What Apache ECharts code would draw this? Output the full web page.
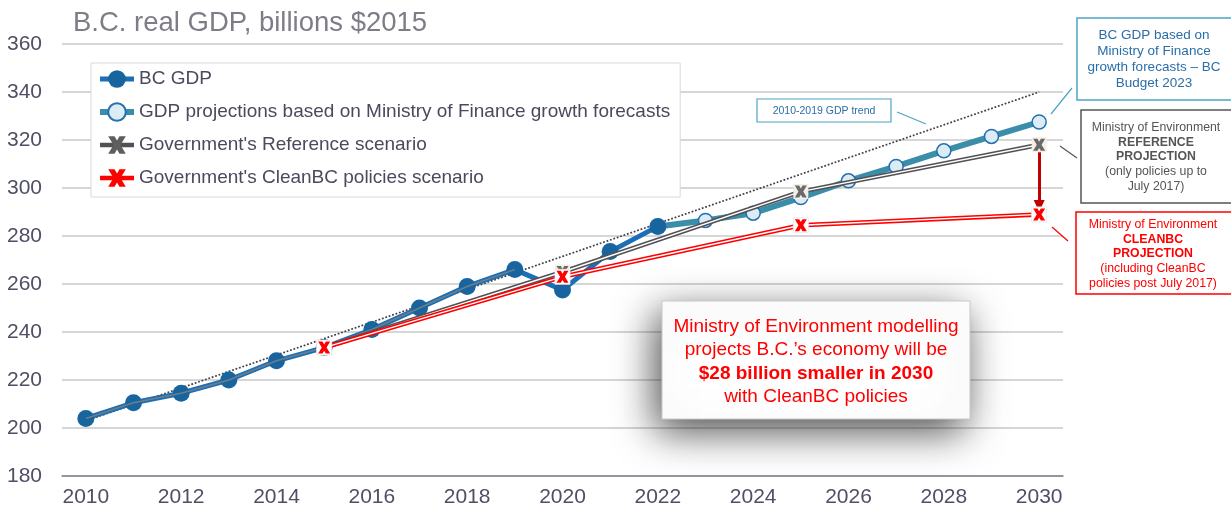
<!DOCTYPE html>
<html>
<head>
<meta charset="utf-8">
<script src="https://cdn.jsdelivr.net/npm/echarts@6/dist/echarts.min.js"></script>
<style>
  html, body { margin: 0; padding: 0; background: #fff; }
  #chart { width: 1231px; height: 514px; }
</style>
</head>
<body>
<div id="chart"></div>
<script>
// categories
const years = ['2010', '2011', '2012', '2013', '2014', '2015', '2016', '2017', '2018', '2019', '2020',
  '2021', '2022', '2023', '2024', '2025', '2026', '2027', '2028', '2029', '2030'];

// historical BC GDP, billions $2015
const bcGdp = [204, 210.5, 214.5, 220, 228, 233.5, 241, 250, 259, 266, 257.5, 273.5, 284,
  null, null, null, null, null, null, null, null];
// Ministry of Finance based projection
const projGdp = [null, null, null, null, null, null, null, null, null, null, null, null, 284,
  286.5, 289.5, 296, 303, 309, 315.5, 321.5, 327.5];
// Ministry of Environment scenarios (model points every 5 years)
const refScenario = [null, null, null, null, null, 233.5, null, null, null, null, 265,
  null, null, null, null, 298.5, null, null, null, null, 318];
const cleanScenario = [null, null, null, null, null, 233.5, null, null, null, null, 263,
  null, null, null, null, 284.5, null, null, null, null, 289];
// 2010-2019 trend end points
const trendLine = [203, null, null, null, null, null, null, null, null, null, null,
  null, null, null, null, null, null, null, null, null, 340];
const yTicks = { min: 180, max: 360, step: 20 };

const FONT = '"Liberation Sans", Arial, sans-serif';
const axisText = '#4f4f66';
const xMark = 'path://M0,0 L3.6,0 L5,2.4 L6.4,0 L10,0 L7,5 L10,10 L6.4,10 L5,7.6 L3.6,10 L0,10 L3,5 Z';

const chart = echarts.init(document.getElementById('chart'));

chart.setOption({
  animation: false,
  textStyle: { fontFamily: FONT },
  title: {
    text: 'B.C. real GDP, billions $2015',
    left: 68, top: 4,
    textStyle: { fontSize: 27.5, fontWeight: 'normal', color: '#7d7d88', fontFamily: FONT }
  },
  grid: { left: 62, right: 168, top: 44, bottom: 38 },
  legend: {
    data: ['BC GDP', 'GDP projections based on Ministry of Finance growth forecasts',
      "Government's Reference scenario", "Government's CleanBC policies scenario"],
    orient: 'vertical',
    left: 91, top: 63,
    padding: [5, 10, 8, 6],
    itemGap: 11,
    itemWidth: 34, itemHeight: 22,
    backgroundColor: '#fff',
    borderColor: '#d9d9d9', borderWidth: 1,
    lineStyle: { width: 'inherit' },
    textStyle: { fontSize: 19, color: '#4a4a5e', fontFamily: FONT, lineHeight: 22 },
    z: 10
  },
  xAxis: {
    type: 'category',
    data: years,
    boundaryGap: true,
    axisLine: { lineStyle: { color: '#80808c', width: 1.5 } },
    axisTick: { inside: true, length: 7, interval: 0, lineStyle: { color: '#80808c' } },
    axisLabel: { color: axisText, fontSize: 21, margin: 11, interval: 1 },
    splitLine: { show: false }
  },
  yAxis: {
    type: 'value',
    min: yTicks.min, max: yTicks.max, interval: yTicks.step,
    axisLine: { show: false },
    axisTick: { show: false },
    axisLabel: { color: axisText, fontSize: 21, margin: 20 },
    splitLine: { lineStyle: { color: '#c8c8c8', width: 1.5 } }
  },
  series: [
    {
      name: 'trend',
      type: 'line',
      data: trendLine,
      connectNulls: true,
      symbol: 'none',
      lineStyle: { color: '#404048', width: 1.7, type: [1.8, 1.8] },
      z: 2
    },
    {
      name: 'GDP projections based on Ministry of Finance growth forecasts',
      type: 'line',
      data: projGdp,
      symbol: 'circle', symbolSize: 14,
      lineStyle: { color: '#3a8eaa', width: 6 },
      itemStyle: { color: '#dcecf5', borderColor: '#2470b0', borderWidth: 1.5 },
      z: 3
    },
    {
      name: 'BC GDP',
      type: 'line',
      data: bcGdp,
      symbol: 'circle', symbolSize: 17,
      lineStyle: { color: '#1c6fb6', width: 5 },
      itemStyle: { color: '#18649f' },
      z: 4
    },
    {
      name: 'model history',
      type: 'line',
      data: bcGdp.slice(0, 10),
      symbol: 'none',
      lineStyle: { color: '#6f7d88', width: 1.6 },
      z: 5
    },
    {
      name: "Government's Reference scenario",
      type: 'line',
      data: refScenario,
      connectNulls: true,
      symbol: xMark, symbolSize: 13, showSymbol: false,
      lineStyle: { color: '#525256', width: 4.5 },
      itemStyle: { color: '#5e5e5e' },
      z: 6,
      markLine: {
        silent: true,
        symbol: ['none', 'triangle'],
        symbolSize: [11, 12],
        label: { show: false },
        lineStyle: { color: '#c00000', width: 3, type: 'solid' },
        data: [[{ coord: ['2030', 315] }, { coord: ['2030', 292.5] }]]
      }
    },
    {
      name: 'ref inner',
      type: 'line',
      data: refScenario,
      connectNulls: true,
      symbol: 'none',
      lineStyle: { color: '#fff', width: 1.4 },
      z: 7
    },
    {
      name: "Government's CleanBC policies scenario",
      type: 'line',
      data: cleanScenario,
      connectNulls: true,
      symbol: xMark, symbolSize: 13, showSymbol: false,
      lineStyle: { color: '#ff0000', width: 4.5 },
      itemStyle: { color: '#ff0000' },
      z: 8
    },
    {
      name: 'clean inner',
      type: 'line',
      data: cleanScenario,
      connectNulls: true,
      symbol: 'none',
      lineStyle: { color: '#fff', width: 1.4 },
      z: 9
    },
    // marker boxes and crosses
    {
      name: 'ref box', type: 'scatter', data: refScenario,
      symbol: 'rect', symbolSize: 15,
      itemStyle: { color: '#f4eee6', opacity: 1 }, z: 10
    },
    {
      name: 'ref mark', type: 'scatter', data: refScenario,
      symbol: xMark, symbolSize: 12,
      itemStyle: { color: '#6a6a6a', opacity: 1 }, z: 11
    },
    {
      name: 'clean box', type: 'scatter', data: cleanScenario,
      symbol: 'rect', symbolSize: 15,
      itemStyle: { color: '#ffffff', borderColor: '#e6e6e6', borderWidth: 0.8, opacity: 1 }, z: 12
    },
    {
      name: 'clean mark', type: 'scatter', data: cleanScenario,
      symbol: xMark, symbolSize: 12,
      itemStyle: { color: '#ff0000', opacity: 1 }, z: 13
    }
  ],
  graphic: [
    // 2010-2019 trend label
    { type: 'rect', z: 20, shape: { x: 757, y: 99, width: 134, height: 23 },
      style: { fill: '#fff', stroke: '#4ba5c6', lineWidth: 1.2 } },
    { type: 'text', z: 21, x: 824, y: 111,
      style: { text: '2010-2019 GDP trend', fontSize: 10.5, fill: '#2a6ea8', align: 'center', verticalAlign: 'middle', fontFamily: FONT } },
    { type: 'line', z: 20, shape: { x1: 897, y1: 112, x2: 926, y2: 124 },
      style: { stroke: '#4ba5c6', lineWidth: 1.2 } },

    // budget 2023 note
    { type: 'rect', z: 20, shape: { x: 1077, y: 18, width: 170, height: 82 },
      style: { fill: '#fff', stroke: '#4ba5c6', lineWidth: 1.5 } },
    { type: 'text', z: 21, x: 1154, y: 59,
      style: { text: 'BC GDP based on\nMinistry of Finance\ngrowth forecasts – BC\nBudget 2023',
        fontSize: 13.5, lineHeight: 16, fill: '#2a6ea8', align: 'center', verticalAlign: 'middle', fontFamily: FONT } },
    { type: 'line', z: 20, shape: { x1: 1051, y1: 114, x2: 1072, y2: 88 },
      style: { stroke: '#4ba5c6', lineWidth: 1.2 } },

    // reference projection note
    { type: 'rect', z: 20, shape: { x: 1081, y: 110, width: 170, height: 93 },
      style: { fill: '#fff', stroke: '#555', lineWidth: 1.5 } },
    { type: 'text', z: 21, x: 1156, y: 157,
      style: {
        text: '{n|Ministry of Environment}\n{b|REFERENCE}\n{b|PROJECTION}\n{n|(only policies up to}\n{n|July 2017)}',
        align: 'center', verticalAlign: 'middle', fontFamily: FONT,
        rich: {
          n: { fontSize: 12.3, lineHeight: 14.8, fill: '#555', align: 'center', fontFamily: FONT },
          b: { fontSize: 12.3, lineHeight: 14.8, fill: '#555', fontWeight: 'bold', align: 'center', fontFamily: FONT }
        }
      } },
    { type: 'line', z: 20, shape: { x1: 1060, y1: 146, x2: 1077, y2: 158 },
      style: { stroke: '#555', lineWidth: 1.2 } },

    // cleanbc projection note
    { type: 'rect', z: 20, shape: { x: 1076, y: 212, width: 170, height: 82 },
      style: { fill: '#fff', stroke: '#ff0000', lineWidth: 1.5 } },
    { type: 'text', z: 21, x: 1153, y: 254,
      style: {
        text: '{n|Ministry of Environment}\n{b|CLEANBC}\n{b|PROJECTION}\n{n|(including CleanBC}\n{n|policies post July 2017)}',
        align: 'center', verticalAlign: 'middle', fontFamily: FONT,
        rich: {
          n: { fontSize: 12.3, lineHeight: 14.8, fill: '#ff0000', align: 'center', fontFamily: FONT },
          b: { fontSize: 12.3, lineHeight: 14.8, fill: '#ff0000', fontWeight: 'bold', align: 'center', fontFamily: FONT }
        }
      } },
    { type: 'line', z: 20, shape: { x1: 1052, y1: 227, x2: 1068, y2: 241 },
      style: { stroke: '#ff0000', lineWidth: 1.2 } },

    // centre callout
    { type: 'rect', z: 20, shape: { x: 662, y: 301, width: 308, height: 118 },
      style: { fill: '#fff', stroke: '#c8c8c8', lineWidth: 1,
        shadowBlur: 40, shadowColor: 'rgba(0,0,0,0.7)', shadowOffsetX: -6, shadowOffsetY: 12 } },
    { type: 'text', z: 21, x: 816, y: 362,
      style: {
        text: '{n|Ministry of Environment modelling}\n{n|projects B.C.’s economy will be}\n{b|$28 billion smaller in 2030}\n{n|with CleanBC policies}',
        align: 'center', verticalAlign: 'middle', fontFamily: FONT,
        rich: {
          n: { fontSize: 19, lineHeight: 23.5, fill: '#ff0000', align: 'center', fontFamily: FONT },
          b: { fontSize: 19, lineHeight: 23.5, fill: '#ff0000', fontWeight: 'bold', align: 'center', fontFamily: FONT }
        }
      } }
  ]
});
</script>
</body>
</html>
